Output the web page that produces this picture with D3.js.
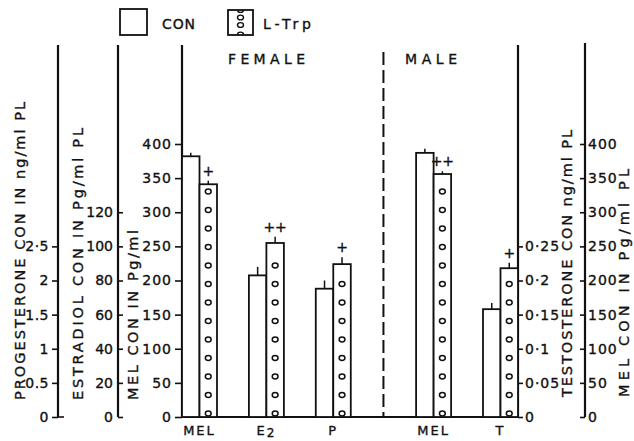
<!DOCTYPE html>
<html><head><meta charset="utf-8">
<script src="https://cdn.jsdelivr.net/npm/d3@7"></script>
<style>
body{margin:0;background:#fff}
text{font-family:"DejaVu Sans",sans-serif;fill:#111;stroke:#111;stroke-width:0.35}
</style>
</head><body>
<svg id="c" width="634" height="441"></svg>
<script>
// ---- data ----
const categories = ["MEL", "E2", "P", "MEL", "T"];
const sexes = ["FEMALE", "FEMALE", "FEMALE", "MALE", "MALE"];
const units = ["mel", "e2", "p", "mel", "t"];
const series = ["CON", "L-Trp"];
const conValues = [382, 83, 1.88, 387, 0.158];
const trpValues = [341, 102, 2.24, 356, 0.218];
const conErr = [5, 5, 0.12, 6, 0.009];
const trpErr = [5, 3.6, 0.1, 4, 0.008];
const signif = ["+", "++", "+", "++", "+"];
const melTicks = [0, 50, 100, 150, 200, 250, 300, 350, 400];
const e2Ticks = [0, 20, 40, 60, 80, 100, 120];
const pTicks = [0, 0.5, 1, 1.5, 2, 2.5];
const pTickLabels = ["0", "0.5", "1", "1.5", "2", "2·5"];
const tTicks = [0, 0.05, 0.1, 0.15, 0.2, 0.25];
const tTickLabels = ["0", "0·05", "0·1", "0·15", "0·2", "0·25"];

// ---- layout ----
const svg = d3.select("#c");
const base = 417, top400 = 144, axisTop = 45;
const melY = d3.scaleLinear().domain([0, 400]).range([base, top400]);
const e2Y = d3.scaleLinear().domain([0, 160]).range([base, top400]);
const pY = d3.scaleLinear().domain([0, 4]).range([base, top400]);
const tY = d3.scaleLinear().domain([0, 0.4]).range([base, top400]);
const scaleFor = {mel: melY, e2: e2Y, p: pY, t: tY};

const xg = d3.scaleLinear().domain([0, 4.5]).range([182, 483]);
const inner = d3.scaleBand().domain(series).range([0, 35]);
const slot = i => i + (sexes[i] === "MALE" ? 0.5 : 0);

const xMelL = xg(0), xT = xg(4.5) + inner.range()[1], xMelR = 585, xE2 = 118, xP = 58;

const tickFont = ls => g => {
  g.select(".domain").remove();
  g.selectAll("line").attr("stroke", "#111").attr("stroke-width", 1.6);
  g.selectAll("text").attr("font-size", 14).attr("letter-spacing", ls)
    .attr("font-family", "DejaVu Sans").attr("fill", "#111");
};
const vline = (x, y1, y2) => svg.append("line").attr("x1", x).attr("x2", x)
  .attr("y1", y1).attr("y2", y2).attr("stroke", "#111").attr("stroke-width", 2.2);

// progesterone axis
svg.append("g").attr("transform", `translate(${xP},0)`)
  .call(d3.axisLeft(pY).tickValues(pTicks).tickFormat((d, i) => pTickLabels[i]).tickSize(6).tickPadding(3))
  .call(tickFont(0.5));
vline(xP, axisTop, base);
svg.append("line").attr("x1", xP).attr("x2", xP + 6).attr("y1", base).attr("y2", base)
  .attr("stroke", "#111").attr("stroke-width", 1.6);

// estradiol axis (ticks point right)
svg.append("g").attr("transform", `translate(${xE2},0)`)
  .call(d3.axisLeft(e2Y).tickValues(e2Ticks).tickSizeInner(-5).tickSizeOuter(0).tickPadding(5))
  .call(tickFont(0));
vline(xE2, axisTop, base);

// MEL left axis
svg.append("g").attr("transform", `translate(${xMelL},0)`)
  .call(d3.axisLeft(melY).tickValues(melTicks).tickSize(7).tickPadding(3))
  .call(tickFont(1));
vline(xMelL, axisTop, base);

// testosterone axis
svg.append("g").attr("transform", `translate(${xT},0)`)
  .call(d3.axisRight(tY).tickValues(tTicks).tickFormat((d, i) => tTickLabels[i]).tickSize(5).tickPadding(2))
  .call(tickFont(1));
vline(xT, axisTop, base);

// MEL right axis (ticks point left, labels right)
svg.append("g").attr("transform", `translate(${xMelR},0)`)
  .call(d3.axisRight(melY).tickValues(melTicks).tickSizeInner(-5).tickSizeOuter(0).tickPadding(3))
  .call(tickFont(1));
vline(xMelR, 43, base);

// baseline
svg.append("line").attr("x1", xMelL).attr("x2", xT).attr("y1", base).attr("y2", base)
  .attr("stroke", "#111").attr("stroke-width", 2.2);

// divider
const xDiv = (xg(slot(2)) + inner.range()[1] + xg(slot(3))) / 2;
svg.append("line").attr("x1", xDiv).attr("x2", xDiv).attr("y1", 52).attr("y2", base)
  .attr("stroke", "#111").attr("stroke-width", 2).attr("stroke-dasharray", "13,5");

// bars
const rows = [];
categories.forEach((c, i) => {
  series.forEach(s => {
    const v = s === "CON" ? conValues[i] : trpValues[i];
    const e = s === "CON" ? conErr[i] : trpErr[i];
    rows.push({i, s, v, e, sc: scaleFor[units[i]]});
  });
});
const bw = inner.bandwidth();
const bars = svg.append("g");
rows.forEach(r => {
  const x = xg(slot(r.i)) + inner(r.s);
  const y = r.sc(r.v);
  bars.append("rect").attr("x", x).attr("y", y).attr("width", bw).attr("height", base - y)
    .attr("fill", "#fff").attr("stroke", "#111").attr("stroke-width", 1.8);
  const ye = r.sc(r.v + r.e);
  bars.append("line").attr("x1", x + bw / 2).attr("x2", x + bw / 2).attr("y1", y).attr("y2", ye)
    .attr("stroke", "#111").attr("stroke-width", 1.5);
  if (r.s === "L-Trp") {
    for (let cy = base - 3.5; cy > y + 5; cy -= 18.5) {
      bars.append("ellipse").attr("cx", x + bw / 2).attr("cy", cy).attr("rx", 2.9).attr("ry", 2.4)
        .attr("fill", "none").attr("stroke", "#111").attr("stroke-width", 1.5);
    }
    svg.append("text").attr("x", x + bw / 2).attr("y", ye - 5).attr("text-anchor", "middle")
      .attr("font-size", 14).attr("letter-spacing", 0).text(signif[r.i]);
  }
});

// x labels
categories.forEach((c, i) => {
  const cx = xg(slot(i)) + inner.range()[1] / 2;
  const t = svg.append("text").attr("x", cx).attr("y", 435).attr("text-anchor", "middle")
    .attr("font-size", 13).attr("letter-spacing", 2);
  if (c === "E2") {
    t.append("tspan").text("E");
    t.append("tspan").attr("dy", 2).attr("font-size", 12).text("2");
  } else t.text(c);
});

// axis titles
const vtitle = (x, yStart, len, txt) => svg.append("text")
  .attr("transform", `translate(${x},${yStart}) rotate(-90)`)
  .attr("font-size", 14.5).attr("textLength", len).attr("lengthAdjust", "spacing").text(txt);
vtitle(25, 400, 298, "PROGESTERONE CON IN ng/ml PL");
vtitle(83, 400, 272, "ESTRADIOL CON IN Pg/ml PL");
vtitle(138, 400, 170, "MEL CON IN Pg/ml");
vtitle(572, 397, 267, "TESTOSTERONE CON ng/ml PL");
vtitle(629, 397, 228, "MEL CON IN Pg/ml PL");

// legend
svg.append("rect").attr("x", 120).attr("y", 9).attr("width", 27).attr("height", 26)
  .attr("fill", "#fff").attr("stroke", "#111").attr("stroke-width", 1.8);
svg.append("text").attr("x", 162).attr("y", 29).attr("font-size", 14).attr("textLength", 33)
  .attr("lengthAdjust", "spacing").text(series[0]);
const defs = svg.append("defs");
defs.append("clipPath").attr("id", "lg").append("rect").attr("x", 228).attr("y", 10).attr("width", 25).attr("height", 25);
svg.append("rect").attr("x", 228).attr("y", 10).attr("width", 25).attr("height", 25)
  .attr("fill", "#fff").attr("stroke", "#111").attr("stroke-width", 1.8);
const lg = svg.append("g").attr("clip-path", "url(#lg)");
[10, 17.5, 25, 34.5].forEach(cy => lg.append("ellipse").attr("cx", 240.5).attr("cy", cy)
  .attr("rx", 3).attr("ry", 2.4).attr("fill", "none").attr("stroke", "#111").attr("stroke-width", 1.4));
svg.append("text").attr("x", 263).attr("y", 29).attr("font-size", 14).attr("textLength", 48)
  .attr("lengthAdjust", "spacing").text(series[1]);

svg.append("text").attr("x", 228).attr("y", 64).attr("font-size", 14).attr("textLength", 77)
  .attr("lengthAdjust", "spacing").text("FEMALE");
svg.append("text").attr("x", 405).attr("y", 64).attr("font-size", 14).attr("textLength", 52)
  .attr("lengthAdjust", "spacing").text("MALE");
</script>
</body></html>
